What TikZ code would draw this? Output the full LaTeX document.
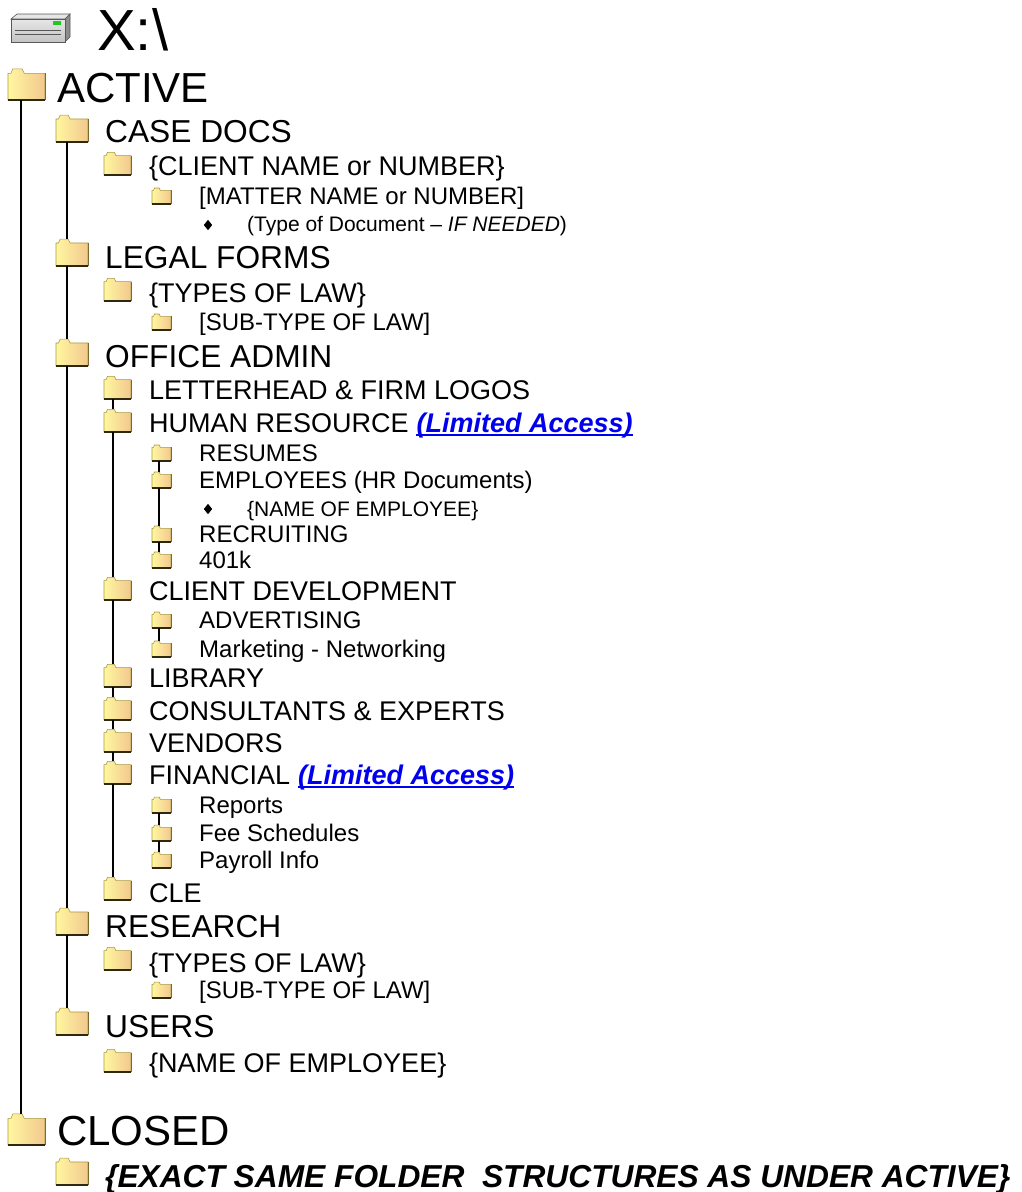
\documentclass[tikz,border=0pt]{standalone}
\usepackage{fontspec}
\setmainfont{Liberation Sans}
\usetikzlibrary{positioning, shapes.geometric}

\definecolor{fldlite}{HTML}{FFF7A0}
\definecolor{flddark}{HTML}{F2C88E}
\definecolor{fldedge}{HTML}{A89A40}
\definecolor{fldshadow}{HTML}{2E2810}
\definecolor{linkblue}{HTML}{0000EE}
\definecolor{drvfront}{HTML}{C4C4C4}
\definecolor{drvtop}{HTML}{E6E6E6}
\definecolor{drvright}{HTML}{8C8C8C}
\definecolor{drvedge}{HTML}{585858}
\definecolor{drvled}{HTML}{22C822}

\tikzset{
  folder/.pic={
    \shade[left color=fldlite, right color=flddark, draw=fldedge, line width=0.6pt]
      (0,0) -- (0,-0.72) -- (0.08,-0.72) -- (0.13,-0.84) -- (0.38,-0.84)
      -- (0.44,-0.72) -- (1,-0.72) -- (1,0) -- cycle;
    \draw[fldedge!70!black, line width=0.8pt] (1,-0.72) -- (1,0);
    \draw[fldshadow, line width=1.6pt] (0,0) -- (1,0);
    \coordinate (-top) at (0.35,-0.84);
    \coordinate (-bot) at (0.35,0);
  },
  t0/.style={anchor=base west, inner sep=0pt, font=\fontsize{42}{50}\selectfont},
  t1/.style={anchor=base west, inner sep=0pt, font=\fontsize{31.7}{38}\selectfont},
  t2/.style={anchor=base west, inner sep=0pt, font=\fontsize{27}{32}\selectfont},
  t3/.style={anchor=base west, inner sep=0pt, font=\fontsize{24}{29}\selectfont},
  t4/.style={anchor=base west, inner sep=0pt, font=\fontsize{21}{25}\selectfont},
  link/.style={t2, text=linkblue, font=\fontsize{27}{32}\selectfont\bfseries\itshape},
  linkline/.style={linkblue, line width=2pt},
  tree/.style={black, line width=2pt},
  bullet/.style={diamond, fill=black, inner sep=0pt, minimum width=8.5pt, minimum height=10.5pt},
}

\begin{document}
\begin{tikzpicture}[x=1pt, y=-1pt]
\useasboundingbox (0,0) rectangle (1021,1192);

% drive
\fill[drvtop, draw=drvedge, line width=0.6pt] (11,19) -- (17,14) -- (70,14) -- (65,19) -- cycle;
\fill[drvright, draw=drvedge, line width=0.6pt] (65,19) -- (70,14) -- (70,37) -- (65,42) -- cycle;
\shade[top color=drvtop, bottom color=drvfront, draw=drvedge, line width=0.6pt] (11,19) rectangle (65,42);
\fill[drvled] (53,21) rectangle (61,25);
\draw[drvedge, line width=0.8pt] (15,30) -- (61,30);
\draw[drvedge, line width=0.8pt] (15,34.5) -- (61,34.5);
\node[anchor=base west, inner sep=0pt, font=\fontsize{58}{64}\selectfont] (drive) at (97,50) {X:\textbackslash};

% folders
\pic[scale=37] (factive) at (8,100) {folder};
\pic[scale=37] (fclosed) at (8,1145) {folder};

\pic[scale=32] (fcasedocs) at (56,142) {folder};
\pic[scale=32] (flegal) at (56,266) {folder};
\pic[scale=32] (foffice) at (56,366) {folder};
\pic[scale=32] (fresearch) at (56,935) {folder};
\pic[scale=32] (fusers) at (56,1035) {folder};
\pic[scale=32] (fexact) at (56,1185) {folder};

\pic[scale=27] (fclient) at (104,175) {folder};
\pic[scale=27] (ftypes) at (104,301) {folder};
\pic[scale=27] (fletter) at (104,399) {folder};
\pic[scale=27] (fhr) at (104,432) {folder};
\pic[scale=27] (fclidev) at (104,600) {folder};
\pic[scale=27] (flibrary) at (104,687) {folder};
\pic[scale=27] (fconsult) at (104,720) {folder};
\pic[scale=27] (fvendors) at (104,752) {folder};
\pic[scale=27] (ffinancial) at (104,784) {folder};
\pic[scale=27] (fcle) at (104,900) {folder};
\pic[scale=27] (ftypesb) at (104,970) {folder};
\pic[scale=27] (fempname) at (104,1072) {folder};

\pic[scale=19] (fmatter) at (152,204) {folder};
\pic[scale=19] (fsubtype) at (152,330) {folder};
\pic[scale=19] (fresumes) at (152,461) {folder};
\pic[scale=19] (femployees) at (152,488) {folder};
\pic[scale=19] (frecruit) at (152,542) {folder};
\pic[scale=19] (fplan) at (152,568) {folder};
\pic[scale=19] (fadvert) at (152,628) {folder};
\pic[scale=19] (fmarket) at (152,657) {folder};
\pic[scale=19] (freports) at (152,813) {folder};
\pic[scale=19] (ffees) at (152,841) {folder};
\pic[scale=19] (fpayroll) at (152,868) {folder};
\pic[scale=19] (fsubtypeb) at (152,998) {folder};

% tree lines
\draw[tree] (factive-bot) -- (fclosed-top);
\draw[tree] (fcasedocs-bot) -- (flegal-top);
\draw[tree] (flegal-bot) -- (foffice-top);
\draw[tree] (foffice-bot) -- (fresearch-top);
\draw[tree] (fresearch-bot) -- (fusers-top);
\draw[tree] (fletter-bot) -- (fhr-top);
\draw[tree] (fhr-bot) -- (fclidev-top);
\draw[tree] (fclidev-bot) -- (flibrary-top);
\draw[tree] (flibrary-bot) -- (fconsult-top);
\draw[tree] (fconsult-bot) -- (fvendors-top);
\draw[tree] (fvendors-bot) -- (ffinancial-top);
\draw[tree] (ffinancial-bot) -- (fcle-top);
\draw[tree] (fresumes-bot) -- (femployees-top);
\draw[tree] (femployees-bot) -- (frecruit-top);
\draw[tree] (frecruit-bot) -- (fplan-top);
\draw[tree] (fadvert-bot) -- (fmarket-top);
\draw[tree] (freports-bot) -- (ffees-top);
\draw[tree] (ffees-bot) -- (fpayroll-top);

% labels
\node[t0] (active) at (57,102) {ACTIVE};
\node[t1] (casedocs) at (105,142) {CASE DOCS};
\node[t2] (client) at (149,175) {\{CLIENT NAME or NUMBER\}};
\node[t3] (matter) at (199,204) {[MATTER NAME or NUMBER]};
\node[bullet] (dotdoc) at (208,225) {};
\node[t4] (doctype) at (247,231) {(Type of Document – \textit{IF NEEDED})};
\node[t1] (legal) at (105,268) {LEGAL FORMS};
\node[t2] (types) at (149,302) {\{TYPES OF LAW\}};
\node[t3] (subtype) at (199,330) {[SUB-TYPE OF LAW]};
\node[t1] (office) at (105,367) {OFFICE ADMIN};
\node[t2] (letter) at (149,399) {LETTERHEAD \& FIRM LOGOS};
\node[t2] (hr) at (149,432) {HUMAN RESOURCE};
\node[link] (hrlink) at ([xshift=7.5pt]hr.base east) {(Limited Access)};
\draw[linkline] ([yshift=-2.5pt]hrlink.base west) -- ([yshift=-2.5pt]hrlink.base east);
\node[t3] (resumes) at (199,461) {RESUMES};
\node[t3] (employees) at (199,488) {EMPLOYEES (HR Documents)};
\node[bullet] (dotemp) at (208,509) {};
\node[t4] (empfile) at (247,516) {\{NAME OF EMPLOYEE\}};
\node[t3] (recruit) at (199,542) {RECRUITING};
\node[t3] (plan) at (199,568) {401k};
\node[t2] (clidev) at (149,600) {CLIENT DEVELOPMENT};
\node[t3] (advert) at (199,628) {ADVERTISING};
\node[t3] (market) at (199,657) {Marketing - Networking};
\node[t2] (library) at (149,687) {LIBRARY};
\node[t2] (consult) at (149,720) {CONSULTANTS \& EXPERTS};
\node[t2] (vendors) at (149,752) {VENDORS};
\node[t2] (financial) at (149,784) {FINANCIAL};
\node[link] (finlink) at ([xshift=7.5pt]financial.base east) {(Limited Access)};
\draw[linkline] ([yshift=-2.5pt]finlink.base west) -- ([yshift=-2.5pt]finlink.base east);
\node[t3] (reports) at (199,813) {Reports};
\node[t3] (fees) at (199,841) {Fee Schedules};
\node[t3] (payroll) at (199,868) {Payroll Info};
\node[t2] (cle) at (149,902) {CLE};
\node[t1] (research) at (105,937) {RESEARCH};
\node[t2] (typesb) at (149,972) {\{TYPES OF LAW\}};
\node[t3] (subtypeb) at (199,998) {[SUB-TYPE OF LAW]};
\node[t1] (users) at (105,1037) {USERS};
\node[t2] (empname) at (149,1072) {\{NAME OF EMPLOYEE\}};
\node[t0] (closed) at (57,1145) {CLOSED};
\node[t1, font=\fontsize{31.7}{38}\selectfont\bfseries\itshape] (exact) at (105,1187) {\{EXACT SAME FOLDER~ STRUCTURES AS UNDER ACTIVE\}};
\end{tikzpicture}
\end{document}
